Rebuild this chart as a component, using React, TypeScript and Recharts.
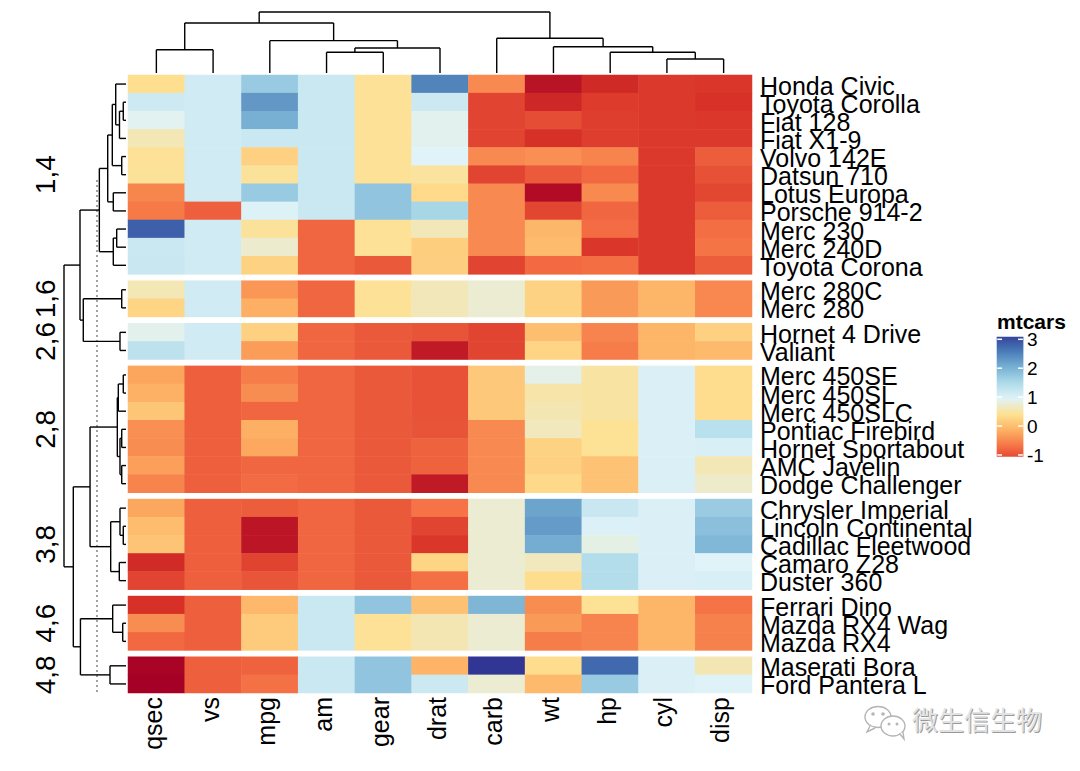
import React from 'react'
import { ScatterChart, Scatter, XAxis, YAxis, ReferenceLine, ReferenceArea } from 'recharts'

// heatmap columns, in dendrogram order
const columns = ['qsec', 'vs', 'mpg', 'am', 'gear', 'drat', 'carb', 'wt', 'hp', 'cyl', 'disp']

// rows, top to bottom
const rowNames = [
  'Honda Civic', 'Toyota Corolla', 'Fiat 128', 'Fiat X1-9', 'Volvo 142E', 'Datsun 710',
  'Lotus Europa', 'Porsche 914-2', 'Merc 230', 'Merc 240D', 'Toyota Corona',
  'Merc 280C', 'Merc 280',
  'Hornet 4 Drive', 'Valiant',
  'Merc 450SE', 'Merc 450SL', 'Merc 450SLC', 'Pontiac Firebird', 'Hornet Sportabout',
  'AMC Javelin', 'Dodge Challenger',
  'Chrysler Imperial', 'Lincoln Continental', 'Cadillac Fleetwood', 'Camaro Z28', 'Duster 360',
  'Ferrari Dino', 'Mazda RX4 Wag', 'Mazda RX4',
  'Maserati Bora', 'Ford Pantera L',
]

// row slices
const groupLabels = ['1,4', '1,6', '2,6', '2,8', '3,8', '4,6', '4,8']
const groupSizes = [11, 2, 2, 7, 5, 3, 2]

// scaled values, one row per car, columns as above
const values = [
  [0.38, 1.12, 1.71, 1.19, 0.42, 2.49, -0.5, -1.64, -1.38, -1.22, -1.25],
  [1.15, 1.12, 2.29, 1.19, 0.42, 1.17, -1.12, -1.41, -1.19, -1.22, -1.29],
  [0.91, 1.12, 2.04, 1.19, 0.42, 0.9, -1.12, -1.04, -1.18, -1.22, -1.23],
  [0.59, 1.12, 1.2, 1.19, 0.42, 0.9, -1.12, -1.31, -1.18, -1.22, -1.22],
  [0.42, 1.12, 0.22, 1.19, 0.42, 0.96, -0.5, -0.45, -0.55, -1.22, -0.89],
  [0.43, 1.12, 0.45, 1.19, 0.42, 0.47, -1.12, -0.92, -0.78, -1.22, -0.99],
  [-0.53, 1.12, 1.71, 1.19, 1.78, 0.32, -0.5, -1.74, -0.49, -1.22, -1.09],
  [-0.64, -0.87, 0.98, 1.19, 1.78, 1.56, -0.5, -1.1, -0.81, -1.22, -0.89],
  [2.83, 1.12, 0.45, -0.81, 0.42, 0.61, -0.5, -0.07, -0.75, -1.22, -0.73],
  [1.2, 1.12, 0.72, -0.81, 0.42, 0.18, -0.5, -0.03, -1.24, -1.22, -0.68],
  [1.21, 1.12, 0.23, -0.81, -0.93, 0.19, -1.12, -0.77, -0.73, -1.22, -0.89],
  [0.59, 1.12, -0.38, -0.81, 0.42, 0.61, 0.74, 0.23, -0.35, -0.1, -0.51],
  [0.25, 1.12, -0.15, -0.81, 0.42, 0.61, 0.74, 0.23, -0.35, -0.1, -0.51],
  [0.89, 1.12, 0.22, -0.81, -0.93, -0.97, -1.12, 0.0, -0.54, -0.1, 0.22],
  [1.33, 1.12, -0.33, -0.81, -0.93, -1.56, -1.12, 0.25, -0.61, -0.1, -0.05],
  [-0.25, -0.87, -0.61, -0.81, -0.93, -0.98, 0.12, 0.87, 0.49, 1.01, 0.36],
  [-0.14, -0.87, -0.46, -0.81, -0.93, -0.98, 0.12, 0.52, 0.49, 1.01, 0.36],
  [0.09, -0.87, -0.81, -0.81, -0.93, -0.98, 0.12, 0.58, 0.49, 1.01, 0.36],
  [-0.45, -0.87, -0.15, -0.81, -0.93, -0.97, -0.5, 0.64, 0.41, 1.01, 1.37],
  [-0.46, -0.87, -0.23, -0.81, -0.93, -0.84, -0.5, 0.23, 0.41, 1.01, 1.04],
  [-0.31, -0.87, -0.81, -0.81, -0.93, -0.84, -0.5, 0.22, 0.05, 1.01, 0.59],
  [-0.55, -0.87, -0.76, -0.81, -0.93, -1.56, -0.5, 0.31, 0.05, 1.01, 0.7],
  [-0.24, -0.87, -0.89, -0.81, -0.93, -0.69, 0.74, 2.17, 1.21, 1.01, 1.69],
  [-0.02, -0.87, -1.61, -0.81, -0.93, -1.12, 0.74, 2.26, 1.0, 1.01, 1.85],
  [0.07, -0.87, -1.61, -0.81, -0.93, -1.25, 0.74, 2.08, 0.85, 1.01, 1.95],
  [-1.37, -0.87, -1.13, -0.81, -0.93, 0.25, 0.74, 0.64, 1.43, 1.01, 0.96],
  [-1.12, -0.87, -0.96, -0.81, -0.93, -0.72, 0.74, 0.36, 1.43, 1.01, 1.04],
  [-1.31, -0.87, -0.06, 1.19, 1.78, 0.04, 1.97, -0.46, 0.41, -0.1, -0.69],
  [-0.46, -0.87, 0.15, 1.19, 0.42, 0.57, 0.74, -0.35, -0.54, -0.1, -0.57],
  [-0.78, -0.87, 0.15, 1.19, 0.42, 0.57, 0.74, -0.61, -0.54, -0.1, -0.57],
  [-1.82, -0.87, -0.84, 1.19, 1.78, -0.11, 3.21, 0.36, 2.75, 1.01, 0.57],
  [-1.87, -0.87, -0.71, 1.19, 1.78, 1.17, 0.74, -0.05, 1.71, 1.01, 0.97],
]

// dendrograms, hclust style: negative = leaf (1-based), positive = earlier merge; [a, b, height]
const colMerges = [
  [-1, -2, 0.38],
  [-4, -5, 0.34],
  [2, -6, 0.41],
  [-3, 3, 0.53],
  [1, 4, 0.82],
  [-10, -11, 0.23],
  [-9, 6, 0.34],
  [-8, 7, 0.43],
  [-7, 8, 0.57],
  [5, 9, 1.0],
]

const rowMerges = [
  [-2, -3, 0.044],
  [1, -4, 0.105],
  [-1, 2, 0.166],
  [-5, -6, 0.069],
  [3, 4, 0.221],
  [-7, -8, 0.205],
  [5, 6, 0.295],
  [-9, -10, 0.15],
  [8, -11, 0.205],
  [7, 9, 0.43],
  [-12, -13, 0.069],
  [-14, -15, 0.097],
  [11, 12, 0.689],
  [10, 13, 0.742],
  [-16, -17, 0.044],
  [15, -18, 0.124],
  [-19, -20, 0.069],
  [-21, -22, 0.069],
  [17, 18, 0.097],
  [16, 19, 0.14],
  [-24, -25, 0.044],
  [-23, 21, 0.097],
  [-26, -27, 0.108],
  [22, 23, 0.247],
  [20, 24, 0.58],
  [-29, -30, 0.053],
  [-28, 26, 0.215],
  [-31, -32, 0.258],
  [27, 28, 0.735],
  [25, 29, 0.85],
  [14, 30, 1.0],
]
const CUT_HEIGHT = 0.468

const legendTicks = [-1, 0, 1, 2, 3]
const palette = ['#A50026', '#D73027', '#F46D43', '#FDAE61', '#FEE090',
  '#E0F3F8', '#ABD9E9', '#74ADD1', '#4575B4', '#313695']
const COLOR_MIN = -1.87
const COLOR_MAX = 3.21

// ---- layout ----
const FONT = '"Liberation Sans", Arial, Helvetica, sans-serif'
const W = 1080
const H = 771
const HM = { left: 128, right: 752, top: 75, bottom: 693 }
const GAP = 0.35 // white gap between slices, in rows
const LEG_MIN = -1.06
const LEG_MAX = 3.09
const CUT_FROM = 5.8

const rowGroup: number[] = groupSizes.flatMap((n, g) => Array(n).fill(g))
const rowY = rowGroup.map((g, r) => r + 0.5 + g * GAP)
const Y_TOTAL = rowNames.length + (groupSizes.length - 1) * GAP
const groupCenters = groupSizes.map((n, g) => {
  const start = groupSizes.slice(0, g).reduce((s, k) => s + k, 0)
  return start + n / 2 + g * GAP
})
const CELL_W = (HM.right - HM.left) / columns.length
const CELL_H = (HM.bottom - HM.top) / Y_TOTAL

const hex = (h: string) => [1, 3, 5].map((i) => parseInt(h.slice(i, i + 2), 16))
const colorOf = (v: number) => {
  const t = Math.min(1, Math.max(0, (v - COLOR_MIN) / (COLOR_MAX - COLOR_MIN))) * (palette.length - 1)
  const i = Math.min(palette.length - 2, Math.floor(t))
  const f = t - i
  const a = hex(palette[i])
  const b = hex(palette[i + 1])
  return `rgb(${a.map((ai, k) => Math.round(ai + (b[k] - ai) * f)).join(',')})`
}

type Seg = [number, number, number, number] // pos1, h1, pos2, h2
function dendroSegments(merges: number[][], leafPos: (i: number) => number): Seg[] {
  const nodes: { pos: number; h: number }[] = []
  const segs: Seg[] = []
  const get = (id: number) => (id < 0 ? { pos: leafPos(-id - 1), h: 0 } : nodes[id - 1])
  merges.forEach(([a, b, h]) => {
    const A = get(a)
    const B = get(b)
    segs.push([A.pos, A.h, A.pos, h])
    segs.push([A.pos, h, B.pos, h])
    segs.push([B.pos, h, B.pos, B.h])
    nodes.push({ pos: (A.pos + B.pos) / 2, h })
  })
  return segs
}

const colSegs = dendroSegments(colMerges, (i) => i + 0.5)
const rowSegs = dendroSegments(rowMerges, (i) => rowY[i])

const cells = values.flatMap((row, r) => row.map((v, c) => ({ x: c + 0.5, y: rowY[r], v })))
const colLeaves = columns.map((_, i) => ({ x: i + 0.5, y: 0 }))
const rowLeaves = rowY.map((y) => ({ x: 0, y }))

const HeatCell = (p: any) => (
  <rect
    x={p.cx - CELL_W / 2 - 0.25}
    y={p.cy - CELL_H / 2 - 0.25}
    width={CELL_W + 0.5}
    height={CELL_H + 0.5}
    fill={colorOf(p.payload.v)}
  />
)
const NoShape = () => <g />

const ColumnTick = (props: any) => {
  const i = Math.round(props.payload.value - 0.5)
  return (
    <text
      transform={`translate(${props.x + 5.5},${HM.bottom + 4}) rotate(-90)`}
      textAnchor="end"
      fontSize={25}
      fontFamily={FONT}
      fill="#000"
    >
      {columns[i]}
    </text>
  )
}

const RowTick = (props: any) => {
  const i = rowY.findIndex((y) => Math.abs(y - props.payload.value) < 1e-6)
  return (
    <text x={HM.right + 8} y={props.y + 10.5} fontSize={25} fontFamily={FONT} fill="#000">
      {rowNames[i]}
    </text>
  )
}

const GroupTick = (props: any) => {
  const i = groupCenters.findIndex((y) => Math.abs(y - props.payload.value) < 1e-6)
  return (
    <text
      transform={`translate(55,${props.y}) rotate(-90)`}
      textAnchor="middle"
      fontSize={28}
      fontFamily={FONT}
      fill="#000"
    >
      {groupLabels[i]}
    </text>
  )
}

const LegendTick = (props: any) => (
  <text x={37} y={props.y + 7} fontSize={19} fontFamily={FONT} fill="#000">
    {props.payload.value}
  </text>
)

const gradStops = Array.from({ length: 41 }, (_, i) => {
  const v = LEG_MAX - ((LEG_MAX - LEG_MIN) * i) / 40
  return <stop key={i} offset={`${(i / 40) * 100}%`} stopColor={colorOf(v)} />
})

const abs = (left: number, top: number): React.CSSProperties => ({ position: 'absolute', left, top })

export default function App() {
  return (
    <div style={{ position: 'absolute', left: 0, top: 0, width: W, height: H, background: '#fff', overflow: 'hidden' }}>
      {/* heatmap body with row and column names */}
      <div style={abs(0, 0)}>
        <ScatterChart width={W} height={H} margin={{ top: HM.top, left: HM.left, right: 0, bottom: 0 }}>
          <XAxis
            type="number"
            dataKey="x"
            domain={[0, columns.length]}
            ticks={columns.map((_, i) => i + 0.5)}
            interval={0}
            orientation="bottom"
            height={H - HM.bottom}
            axisLine={false}
            tickLine={false}
            tick={ColumnTick}
          />
          <YAxis
            type="number"
            dataKey="y"
            domain={[0, Y_TOTAL]}
            reversed
            ticks={rowY}
            interval={0}
            orientation="right"
            width={W - HM.right}
            axisLine={false}
            tickLine={false}
            tick={RowTick}
          />
          <Scatter data={cells} shape={HeatCell} isAnimationActive={false} />
        </ScatterChart>
      </div>

      {/* column dendrogram */}
      <div style={abs(0, 0)}>
        <ScatterChart width={W} height={HM.top} margin={{ top: 12, left: HM.left, right: W - HM.right, bottom: 2 }}>
          <XAxis type="number" dataKey="x" domain={[0, columns.length]} hide />
          <YAxis type="number" dataKey="y" domain={[0, 1]} hide />
          <Scatter data={colLeaves} shape={NoShape} isAnimationActive={false} />
          {colSegs.map((s, i) => (
            <ReferenceLine
              key={i}
              segment={[{ x: s[0], y: s[1] }, { x: s[2], y: s[3] }]}
              stroke="#000"
              strokeWidth={1.4}
              ifOverflow="visible"
            />
          ))}
        </ScatterChart>
      </div>

      {/* row dendrogram with slice titles */}
      <div style={abs(0, 0)}>
        <ScatterChart width={126} height={H} margin={{ top: HM.top, left: 0, right: 0, bottom: H - HM.bottom }}>
          <XAxis type="number" dataKey="x" domain={[0, 1]} reversed hide />
          <YAxis
            type="number"
            dataKey="y"
            domain={[0, Y_TOTAL]}
            reversed
            ticks={groupCenters}
            interval={0}
            width={64}
            axisLine={false}
            tickLine={false}
            tick={GroupTick}
          />
          <Scatter data={rowLeaves} shape={NoShape} isAnimationActive={false} />
          <ReferenceLine
            segment={[{ x: CUT_HEIGHT, y: CUT_FROM }, { x: CUT_HEIGHT, y: Y_TOTAL }]}
            stroke="#666"
            strokeWidth={1.2}
            strokeDasharray="2 3"
            ifOverflow="visible"
          />
          {rowSegs.map((s, i) => (
            <ReferenceLine
              key={i}
              segment={[{ x: s[1], y: s[0] }, { x: s[3], y: s[2] }]}
              stroke="#000"
              strokeWidth={1.4}
              ifOverflow="visible"
            />
          ))}
        </ScatterChart>
      </div>

      {/* colour legend */}
      <div style={abs(990, 300)}>
        <ScatterChart width={90} height={200} margin={{ top: 36.7, left: 6.7, right: 0, bottom: 43.3 }}>
          <defs>
            <linearGradient id="mtcarsGrad" x1="0" y1="0" x2="0" y2="1">
              {gradStops}
            </linearGradient>
          </defs>
          <XAxis type="number" dataKey="x" domain={[0, 1]} hide />
          <YAxis
            type="number"
            dataKey="y"
            domain={[LEG_MIN, LEG_MAX]}
            ticks={legendTicks}
            interval={0}
            orientation="right"
            width={56.6}
            axisLine={false}
            tickLine={false}
            tick={LegendTick}
          />
          <Scatter data={legendTicks.map((t) => ({ x: 0.5, y: t }))} shape={NoShape} isAnimationActive={false} />
          <ReferenceArea
            x1={0}
            x2={1}
            y1={LEG_MIN}
            y2={LEG_MAX}
            fill="url(#mtcarsGrad)"
            fillOpacity={1}
            stroke="none"
            ifOverflow="visible"
          />
          {legendTicks.map((t) => (
            <ReferenceLine key={`l${t}`} segment={[{ x: 0.02, y: t }, { x: 0.2, y: t }]} stroke="#fff" strokeWidth={1.5} ifOverflow="visible" />
          ))}
          {legendTicks.map((t) => (
            <ReferenceLine key={`r${t}`} segment={[{ x: 0.8, y: t }, { x: 0.98, y: t }]} stroke="#fff" strokeWidth={1.5} ifOverflow="visible" />
          ))}
        </ScatterChart>
      </div>

      {/* legend title and watermark */}
      <svg width={W} height={H} style={{ position: 'absolute', left: 0, top: 0, pointerEvents: 'none' }}>
        <text x={997} y={329} fontSize={21} fontWeight="bold" fontFamily={FONT} fill="#000">
          mtcars
        </text>
        <g stroke="#b5b5b5" strokeWidth={1.4} fill="#fff">
          <ellipse cx={878} cy={717} rx={13} ry={10.5} />
          <path d="M870 726 l-3 6 l8 -4" />
          <ellipse cx={893} cy={726} rx={12} ry={10} />
          <path d="M900 734 l4 5 l-1 -7" />
        </g>
        <g fill="#b5b5b5">
          <circle cx={873} cy={714} r={1.8} />
          <circle cx={883} cy={714} r={1.8} />
          <circle cx={889} cy={724} r={1.5} />
          <circle cx={897} cy={724} r={1.5} />
        </g>
        <text x={913} y={731} fontSize={26} fontFamily='"Noto Sans CJK SC", sans-serif' fill="#9a9a9a">
          微生信生物
        </text>
        <text x={912} y={730} fontSize={26} fontFamily='"Noto Sans CJK SC", sans-serif' fill="#e2e2e2">
          微生信生物
        </text>
      </svg>
    </div>
  )
}
